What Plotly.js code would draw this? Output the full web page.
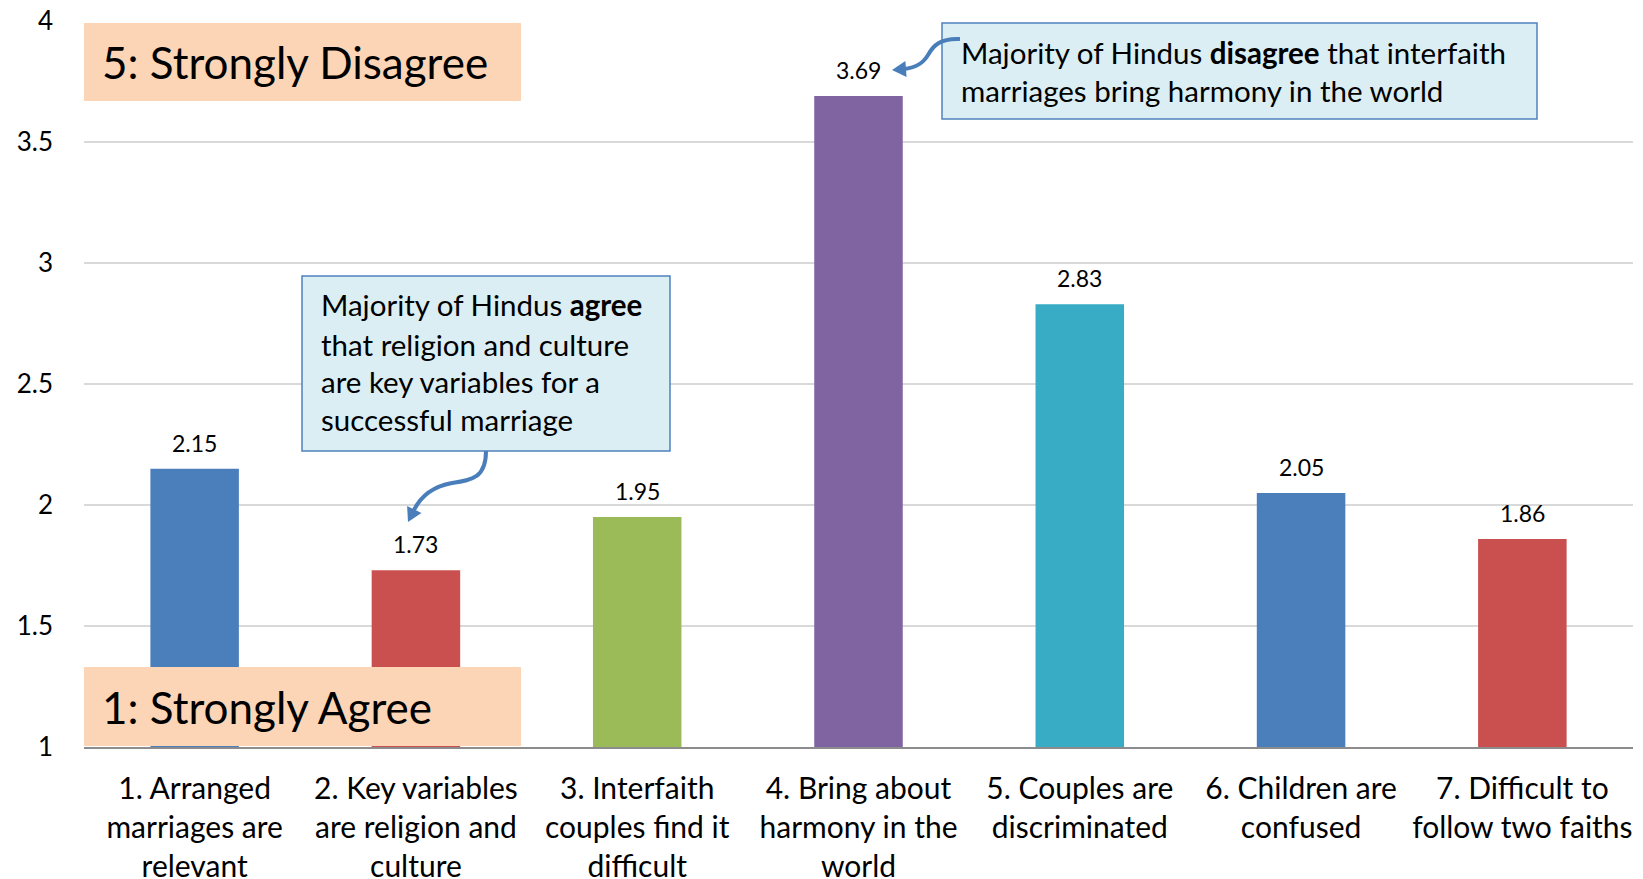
<!DOCTYPE html>
<html><head><meta charset="utf-8">
<script src="https://cdn.plot.ly/plotly-3.0.1.min.js"></script>
<style>html,body{margin:0;padding:0;background:#fff;}#chart{width:1643px;height:879px;}</style>
</head><body><div id="chart"></div>
<script>
const categories = [
  "1. Arranged<br>marriages are<br>relevant",
  "2. Key variables<br>are religion and<br>culture",
  "3. Interfaith<br>couples find it<br>difficult",
  "4. Bring about<br>harmony in the<br>world",
  "5. Couples are<br>discriminated",
  "6. Children are<br>confused",
  "7. Difficult to<br>follow two faiths"
];
const meanScores = [2.15, 1.73, 1.95, 3.69, 2.83, 2.05, 1.86];
const barColors = ['#4a7fbb','#c9504e','#9bbb59','#8064a2','#38abc5','#4a7fbb','#c9504e'];
const yTickVals = [1, 1.5, 2, 2.5, 3, 3.5, 4];
const yTickText = ["1", "1.5", "2", "2.5", "3", "3.5", "4"];
const scaleTop = "5: Strongly Disagree";
const scaleBottom = "1: Strongly Agree";
const calloutAgree = ["Majority of Hindus <b>agree</b>", "that religion and culture", "are key variables for a", "successful marriage"];
const calloutDisagree = ["Majority of Hindus <b>disagree</b> that interfaith", "marriages bring harmony in the world"];

const FONT = 'Lato, "Noto Sans", sans-serif';
const L = 84, T = 21, W = 1549, H = 726;
const px = x => (x - L) / W;
const py = y => (T + H - y) / H;
const P = (x, y) => px(x).toFixed(5) + ',' + py(y).toFixed(5);

function arrowHead(tx, ty, fx, fy, len, half) {
  const dx = tx - fx, dy = ty - fy, m = Math.hypot(dx, dy);
  const ux = dx / m, uy = dy / m, nx = -uy, ny = ux;
  const bx = tx - ux * len, by = ty - uy * len;
  return 'M' + P(tx, ty) + ' L' + P(bx + nx * half, by + ny * half) + ' L' + P(bx - nx * half, by - ny * half) + ' Z';
}

const shapes = [
  {type:'rect', xref:'paper', yref:'paper', x0:px(84), x1:px(521), y0:py(101), y1:py(23), fillcolor:'#fbd5b5', line:{width:0}, layer:'above'},
  {type:'rect', xref:'paper', yref:'paper', x0:px(84), x1:px(521), y0:py(746), y1:py(667), fillcolor:'#fbd5b5', line:{width:0}, layer:'above'},
  {type:'rect', xref:'paper', yref:'paper', x0:px(302), x1:px(670), y0:py(451), y1:py(276), fillcolor:'#dbeef4', line:{color:'#4f81bd', width:1.5}, layer:'above'},
  {type:'rect', xref:'paper', yref:'paper', x0:px(942), x1:px(1537), y0:py(119), y1:py(23), fillcolor:'#dbeef4', line:{color:'#4f81bd', width:1.5}, layer:'above'},
  {type:'path', xref:'paper', yref:'paper', layer:'above', line:{color:'#4a7ebb', width:4},
   path:'M' + P(486, 451) + ' C' + P(486, 478) + ' ' + P(472, 480) + ' ' + P(452, 483) + ' C' + P(430, 487) + ' ' + P(420, 498) + ' ' + P(414, 510)},
  {type:'path', xref:'paper', yref:'paper', layer:'above', line:{width:0}, fillcolor:'#4a7ebb',
   path: arrowHead(408, 522, 415, 508, 14, 8)},
  {type:'path', xref:'paper', yref:'paper', layer:'above', line:{color:'#4a7ebb', width:4},
   path:'M' + P(960, 39) + ' C' + P(940, 38) + ' ' + P(933, 46) + ' ' + P(928, 55) + ' C' + P(922, 65) + ' ' + P(914, 68) + ' ' + P(904, 69)},
  {type:'path', xref:'paper', yref:'paper', layer:'above', line:{width:0}, fillcolor:'#4a7ebb',
   path: arrowHead(892, 70, 906, 69, 14, 8)}
];

const annotations = [];
meanScores.forEach((v, i) => {
  annotations.push({x: categories[i], y: v, xref:'x', yref:'y', text: v.toFixed(2), showarrow:false,
    yanchor:'middle', yshift: 26, font:{family:FONT, size:23, color:'#000'}});
});
annotations.push({xref:'paper', yref:'paper', x:px(100), y:py(62), xanchor:'left', yanchor:'middle', showarrow:false,
  text: scaleTop, font:{family:FONT, size:44, color:'#000'}});
annotations.push({xref:'paper', yref:'paper', x:px(100), y:py(707), xanchor:'left', yanchor:'middle', showarrow:false,
  text: scaleBottom, font:{family:FONT, size:44, color:'#000'}});
const agreeY = [304, 344, 381, 419];
calloutAgree.forEach((t, i) => annotations.push({xref:'paper', yref:'paper', x:px(319), y:py(agreeY[i]), xanchor:'left', yanchor:'middle',
  showarrow:false, text:t, font:{family:FONT, size:29.5, color:'#000'}}));
const disY = [52, 91];
calloutDisagree.forEach((t, i) => annotations.push({xref:'paper', yref:'paper', x:px(959), y:py(disY[i]), xanchor:'left', yanchor:'middle',
  showarrow:false, text:t, font:{family:FONT, size:29.5, color:'#000'}}));

const data = [{
  type:'bar', x: categories, y: meanScores, marker:{color: barColors, line:{width:0}},
  hoverinfo:'x+y', base: 0
}];

const layout = {
  width:1643, height:879,
  margin:{l:L, r:1643 - L - W, t:T, b:879 - T - H, pad:0},
  paper_bgcolor:'#fff', plot_bgcolor:'#fff',
  showlegend:false, bargap:0.6,
  font:{family:FONT, color:'#000'},
  xaxis:{type:'category', range:[-0.5, 6.5], showgrid:false, showline:true, linecolor:'#8c8c8c', linewidth:2,
    ticks:'', tickfont:{family:FONT, size:30, color:'#000'}, ticklabelstandoff:14, zeroline:false, fixedrange:true},
  yaxis:{range:[1, 4], tickvals:yTickVals, ticktext:yTickText, showgrid:true, gridcolor:'#d9d9d9', gridwidth:1.5,
    zeroline:false, showline:false, ticks:'', tickfont:{family:FONT, size:26, color:'#000'}, ticklabelstandoff:30, fixedrange:true},
  shapes: shapes,
  annotations: annotations
};
Plotly.newPlot('chart', data, layout, {displayModeBar:false, staticPlot:true});
</script>
</body></html>
